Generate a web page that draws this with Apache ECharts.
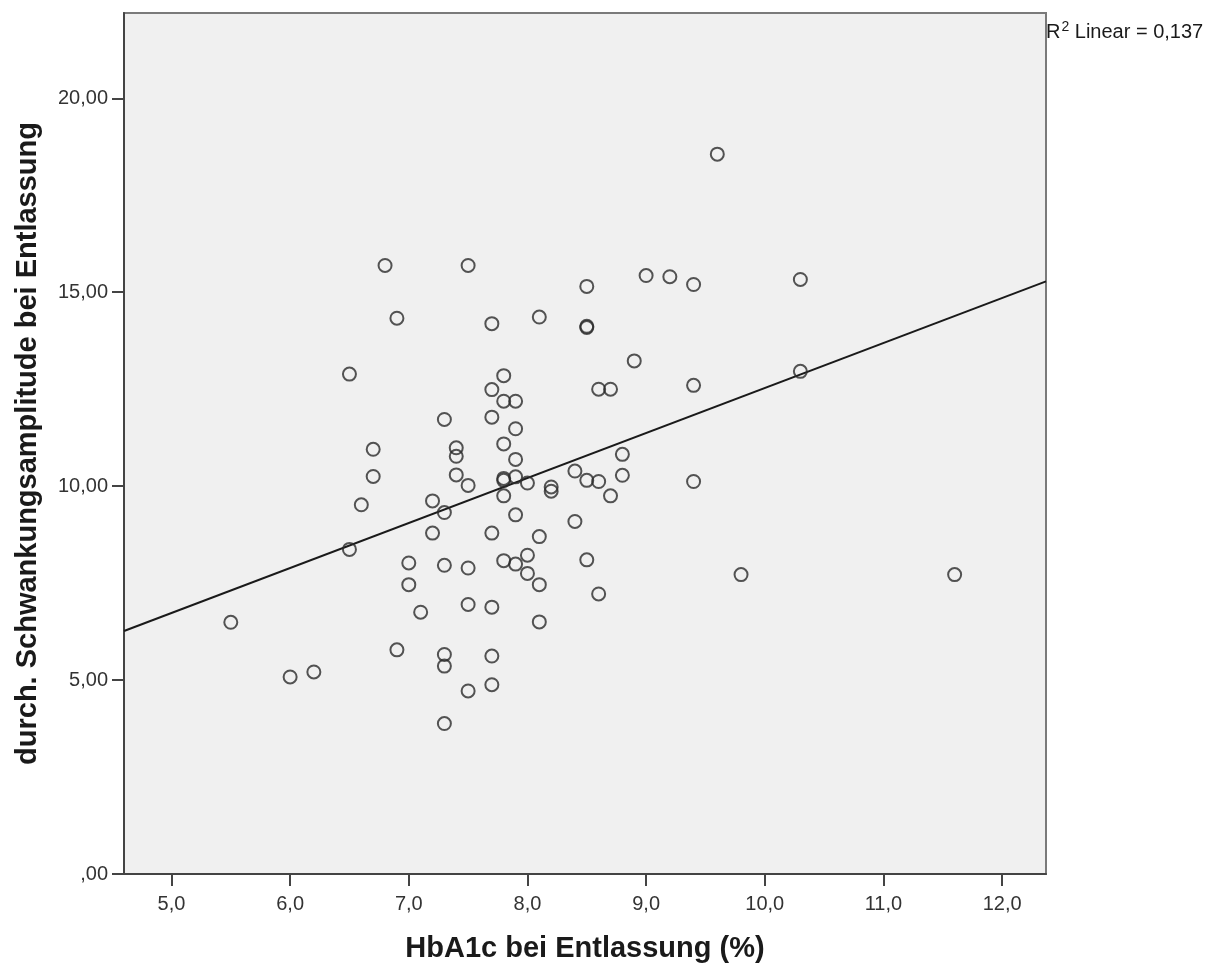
<!DOCTYPE html>
<html>
<head>
<meta charset="utf-8">
<title>HbA1c bei Entlassung vs. Schwankungsamplitude</title>
<script src="https://cdn.jsdelivr.net/npm/echarts@6/dist/echarts.min.js"></script>
<style>
  html, body { margin: 0; padding: 0; background: #ffffff; }
  #chart { width: 1226px; height: 968px; }
</style>
</head>
<body>
<div id="chart"></div>
<script>
// HbA1c at discharge (%) per patient
const hba1c = [
  5.5, 6.0, 6.2, 6.5, 6.5, 6.6, 6.7, 6.7, 6.8, 6.9, 6.9,
  7.0, 7.0, 7.1, 7.2, 7.2,
  7.3, 7.3, 7.3, 7.3, 7.3, 7.3,
  7.4, 7.4, 7.4,
  7.5, 7.5, 7.5, 7.5, 7.5,
  7.7, 7.7, 7.7, 7.7, 7.7, 7.7, 7.7,
  7.8, 7.8, 7.8, 7.8, 7.8, 7.8, 7.8,
  7.9, 7.9, 7.9, 7.9, 7.9, 7.9,
  8.0, 8.0, 8.0,
  8.1, 8.1, 8.1, 8.1,
  8.2, 8.2,
  8.4, 8.4,
  8.5, 8.5, 8.5, 8.5, 8.5,
  8.6, 8.6, 8.6,
  8.7, 8.7,
  8.8, 8.8,
  8.9, 9.0, 9.2,
  9.4, 9.4, 9.4,
  9.6, 9.8, 10.3, 10.3, 11.6
];

// mean fluctuation amplitude at discharge, same order as hba1c
const amplitude = [
  6.49, 5.08, 5.21, 8.37, 12.89, 9.52, 10.95, 10.25, 15.69, 14.33, 5.78,
  8.02, 7.46, 6.75, 9.62, 8.79,
  11.72, 9.32, 7.96, 5.66, 5.36, 3.88,
  10.99, 10.77, 10.29,
  15.69, 10.02, 7.89, 6.95, 4.72,
  14.19, 12.49, 11.78, 8.79, 6.88, 5.62, 4.88,
  12.85, 12.19, 11.09, 10.20, 10.15, 9.75, 8.08,
  12.19, 11.48, 10.69, 10.24, 9.26, 7.99,
  10.08, 8.22, 7.75,
  14.36, 8.70, 7.46, 6.50,
  9.98, 9.87,
  10.39, 9.09,
  15.15, 14.12, 14.09, 10.15, 8.10,
  12.50, 10.12, 7.22,
  12.50, 9.75,
  10.82, 10.28,
  13.23, 15.43, 15.40,
  15.20, 12.60, 10.12,
  18.56, 7.72, 15.33, 12.96, 7.72
];

// linear fit (R² = 0,137)
const fitIntercept = 0.93;
const fitSlope = 1.16;
const rSquaredText = '0,137';

// axis ticks and their labels
const xTickValues = [5, 6, 7, 8, 9, 10, 11, 12];
const xTickLabels = ['5,0', '6,0', '7,0', '8,0', '9,0', '10,0', '11,0', '12,0'];
const yTickValues = [0, 5, 10, 15, 20];
const yTickLabels = [',00', '5,00', '10,00', '15,00', '20,00'];

const xMin = 4.6, xMax = 12.37;
const yMin = 0, yMax = 22.2;

const points = hba1c.map((x, i) => [x, amplitude[i]]);
const fitLine = [xMin, xMax].map(x => [x, fitIntercept + fitSlope * x]);

const labelFont = 'Liberation Sans, Arial, sans-serif';

const chart = echarts.init(document.getElementById('chart'), null, { renderer: 'canvas' });

chart.setOption({
  backgroundColor: '#ffffff',
  animation: false,
  title: {
    text: '{r|R}{s|2}{r| Linear = ' + rSquaredText + '}',
    left: 1046,
    top: 20,
    padding: 0,
    textStyle: {
      fontFamily: labelFont,
      fontWeight: 'normal',
      rich: {
        r: { fontFamily: labelFont, fontWeight: 'normal', fontSize: 20, color: '#1a1a1a', lineHeight: 22, verticalAlign: 'bottom' },
        s: { fontFamily: labelFont, fontWeight: 'normal', fontSize: 14, color: '#1a1a1a', lineHeight: 22, verticalAlign: 'top', padding: [0, 0, 0, 1] }
      }
    }
  },
  grid: {
    left: 124,
    right: 180,
    top: 13,
    bottom: 90,
    show: true,
    backgroundColor: '#f0f0f0',
    borderColor: '#7a7a7a',
    borderWidth: 2
  },
  xAxis: {
    type: 'value',
    min: xMin,
    max: xMax,
    name: 'HbA1c bei Entlassung (%)',
    nameLocation: 'middle',
    nameGap: 60,
    nameTextStyle: { fontFamily: labelFont, fontSize: 29, fontWeight: 'bold', color: '#1a1a1a' },
    axisLine: { show: true, onZero: false, lineStyle: { color: '#444444', width: 2 } },
    axisTick: {
      show: true,
      length: 12,
      customValues: xTickValues,
      lineStyle: { color: '#444444', width: 2 }
    },
    axisLabel: {
      customValues: xTickValues,
      margin: 20,
      fontFamily: labelFont,
      fontSize: 20,
      color: '#333333',
      formatter: v => xTickLabels[xTickValues.indexOf(Math.round(v * 10) / 10)]
    },
    splitLine: { show: false }
  },
  yAxis: {
    type: 'value',
    min: yMin,
    max: yMax,
    name: 'durch. Schwankungsamplitude bei Entlassung',
    nameLocation: 'middle',
    nameRotate: 90,
    nameGap: 82,
    nameTextStyle: { fontFamily: labelFont, fontSize: 29, fontWeight: 'bold', color: '#1a1a1a' },
    axisLine: { show: true, onZero: false, lineStyle: { color: '#444444', width: 2 } },
    axisTick: {
      show: true,
      length: 12,
      customValues: yTickValues,
      lineStyle: { color: '#444444', width: 2 }
    },
    axisLabel: {
      customValues: yTickValues,
      margin: 16,
      fontFamily: labelFont,
      fontSize: 20,
      color: '#333333',
      formatter: v => yTickLabels[yTickValues.indexOf(Math.round(v))]
    },
    splitLine: { show: false }
  },
  series: [
    {
      name: 'Linear',
      type: 'line',
      data: fitLine,
      symbol: 'none',
      silent: true,
      z: 2,
      lineStyle: { color: '#1a1a1a', width: 2 }
    },
    {
      name: 'Patienten',
      type: 'scatter',
      data: points,
      symbol: 'circle',
      symbolSize: 13,
      z: 3,
      itemStyle: {
        color: 'rgba(0,0,0,0)',
        borderColor: '#2a2a2a',
        borderWidth: 2
      }
    }
  ]
});
</script>
</body>
</html>
